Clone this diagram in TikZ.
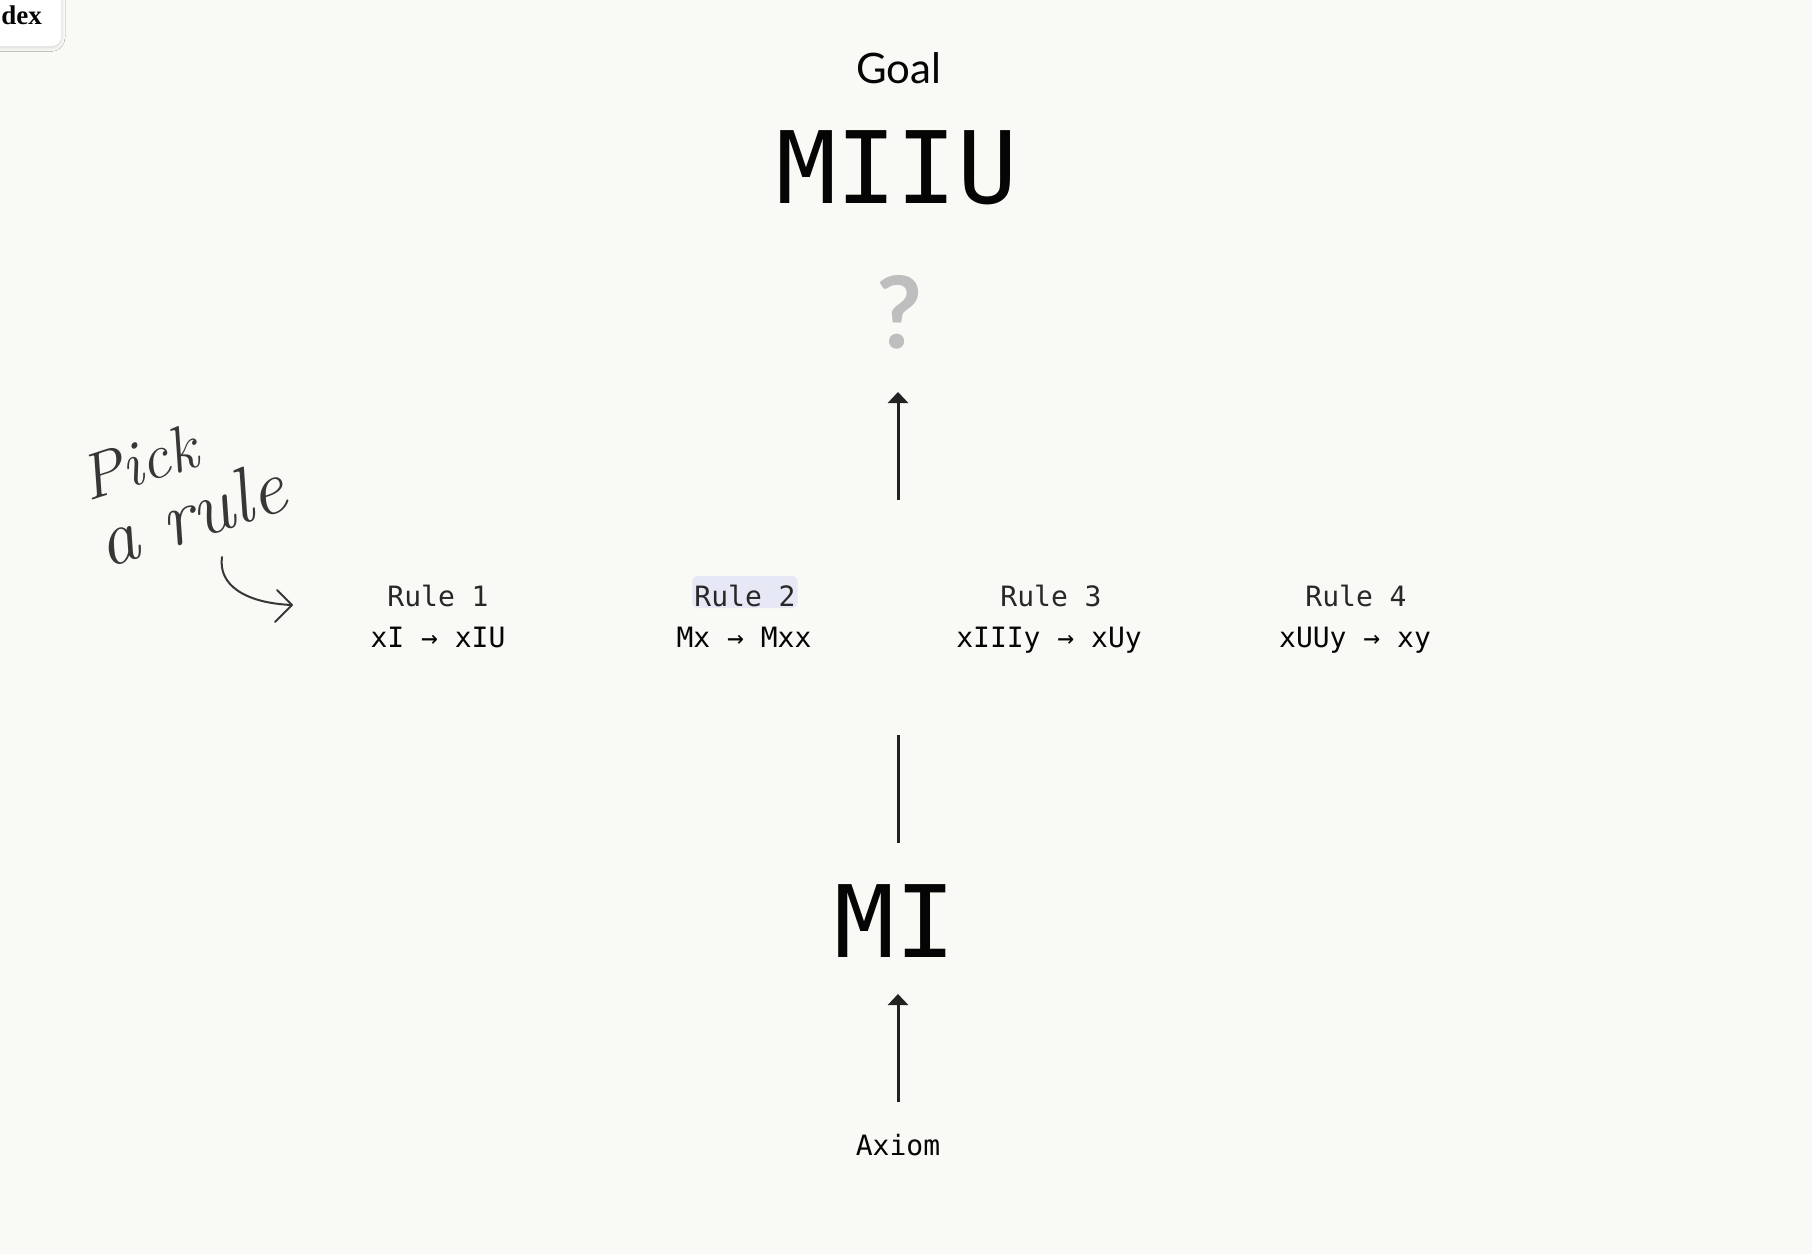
\documentclass[tikz,border=0pt]{standalone}
\usepackage{fontspec}
\setmainfont{Lato}
\newfontfamily\monof{DejaVu Sans Mono}
\newfontfamily\serifb{Liberation Serif}
\newfontfamily\handf{Latin Modern Roman}
\usetikzlibrary{arrows.meta,shadows.blur}
\definecolor{paper}{RGB}{249,249,245}
\definecolor{ink}{RGB}{5,5,5}
\definecolor{qgray}{RGB}{190,190,190}
\definecolor{rulegray}{RGB}{40,40,40}
\definecolor{hilite}{RGB}{230,232,245}
\definecolor{pencil}{RGB}{55,55,55}
\definecolor{arrowc}{RGB}{34,34,34}
\begin{document}
\begin{tikzpicture}[x=1pt,y=-1pt,
  big/.style={font=\monof\fontsize{100}{100}\selectfont, text=ink, inner sep=0pt, anchor=base},
  rulehead/.style={font=\monof\fontsize{28}{28}\selectfont, text=rulegray, inner sep=0pt, anchor=base},
  ruleform/.style={font=\monof\fontsize{28}{28}\selectfont, text=ink, inner sep=0pt, anchor=base},
  hand/.style={text=pencil, inner sep=0pt, rotate=18, anchor=base west},
  conn/.style={draw=arrowc, line width=3pt},
  arr/.style={conn, -{Triangle[width=20pt,length=11pt]}}
]
\fill[paper] (0,0) rectangle (1812,1254);
\useasboundingbox (0,0) rectangle (1812,1254);

% top-left tab
\filldraw[white, rounded corners=10pt, blur shadow={shadow xshift=0pt, shadow yshift=-1.5pt, shadow blur radius=4pt, shadow opacity=15}] (-30,-30) rectangle (61,46);
\node[font=\serifb\bfseries\fontsize{27}{27}\selectfont, text=ink, inner sep=0pt, anchor=base east] (tab) at (42,24) {dex};

% goal
\node[font=\fontsize{42}{42}\selectfont, text=ink, inner sep=0pt, anchor=base] (goal) at (899,83) {Goal};
\node[big] (miiu) at (897,203) {MIIU};
\node[font=\bfseries\fontsize{100}{100}\selectfont, text=qgray, inner sep=0pt, anchor=base] (q) at (899,348) {?};

% rules
\node[rulehead] (r1h) at (438,606) {Rule 1};
\node[ruleform] (r1f) at (438,647) {xI → xIU};
\node[rulehead, fill=hilite, rounded corners=5pt, text height=28pt, text depth=0pt, inner ysep=2pt, inner xsep=2pt] (r2h) at (745,606) {Rule 2};
\node[ruleform] (r2f) at (744,647) {Mx → Mxx};
\node[rulehead] (r3h) at (1051,606) {Rule 3};
\node[ruleform] (r3f) at (1049,647) {xIIIy → xUy};
\node[rulehead] (r4h) at (1356,606) {Rule 4};
\node[ruleform] (r4f) at (1355,647) {xUUy → xy};

% MI and axiom
\node[big] (mi) at (895,957) {MI};
\node[font=\monof\fontsize{28}{28}\selectfont, text=ink, inner sep=0pt, anchor=base] (axiom) at (898,1155) {Axiom};

% connectors
\coordinate (upS) at (898,500);
\coordinate (upE) at (898,392);
\draw[arr] (upS) -- (upE);
\coordinate (lnS) at (898,735);
\coordinate (lnE) at (898,843);
\draw[conn] (lnS) -- (lnE);
\coordinate (axS) at (898,1102);
\coordinate (axE) at (898,994);
\draw[arr] (axS) -- (axE);

% handwritten note
\node[hand, font=\handf\itshape\fontsize{64}{64}\selectfont] (pick) at (88,502) {Pick};
\node[hand, font=\handf\itshape\fontsize{78}{78}\selectfont] (arule) at (106,569) {a rule};
\coordinate (hS) at (222,557);
\coordinate (hE) at (292,605);
\draw[pencil, line width=2pt, line cap=round] (hS) .. controls (218,585) and (245,603) .. (hE);
\draw[pencil, line width=2pt, line cap=round, line join=round] (277,590) -- (hE) -- (275,622);
\end{tikzpicture}
\end{document}
